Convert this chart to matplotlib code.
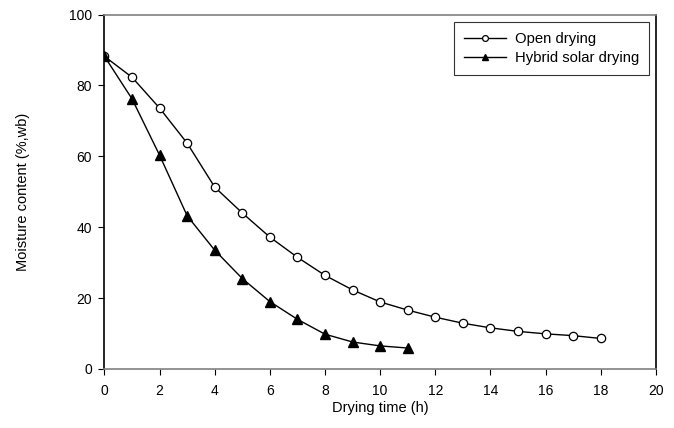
import matplotlib.pyplot as plt

plt.rcParams["font.family"] = ["Liberation Sans", "DejaVu Sans"]

tempo_aberto = list(range(0, 19))
umidade_aberto = [88.2, 82.3, 73.6, 63.7, 51.3, 44.0, 37.2, 31.5, 26.4, 22.3,
                  18.9, 16.6, 14.6, 12.9, 11.6, 10.6, 9.9, 9.4, 8.6]

tempo_hibrido = list(range(0, 12))
umidade_hibrido = [88.2, 76.2, 60.3, 43.2, 33.5, 25.5, 19.0, 14.0, 9.8, 7.6, 6.5, 5.9]

fig = plt.figure(figsize=(6.74, 4.28), dpi=100)
ax = fig.add_axes([0.155, 0.138, 0.818, 0.828])

ax.plot(tempo_aberto, umidade_aberto, color="black", lw=1, marker="o",
        markersize=6, markerfacecolor="white", markeredgecolor="black",
        markeredgewidth=0.9, label="Open drying")
ax.plot(tempo_hibrido, umidade_hibrido, color="black", lw=1, marker="^",
        markersize=7, markerfacecolor="black", markeredgecolor="black",
        label="Hybrid solar drying")

ax.set_xlim(0, 20)
ax.set_ylim(0, 100)
ax.set_xticks(range(0, 21, 2))
ax.set_yticks(range(0, 101, 20))
ax.tick_params(direction="out", length=4, width=0.8, labelsize=10, colors="black")
ax.tick_params(axis="x", pad=7)
ax.tick_params(axis="y", pad=5)

ax.spines["left"].set_color("black")
ax.spines["right"].set_color("black")
ax.spines["top"].set_color("#808080")
ax.spines["bottom"].set_color("#808080")
for s in ax.spines.values():
    s.set_linewidth(1.2)

ax.set_xlabel("Drying time (h)", fontsize=10.5, labelpad=2)
ax.set_ylabel("Moisture content (%,wb)", fontsize=10.5, labelpad=28)

leg = ax.legend(loc="upper right", bbox_to_anchor=(0.988, 0.979),
                borderaxespad=0, fontsize=10.7,
                frameon=True, fancybox=False, edgecolor="black",
                markerscale=0.7, handlelength=2.8, handletextpad=0.6,
                borderpad=0.7, labelspacing=0.3)
leg.get_frame().set_linewidth(0.8)

fig.savefig("out.png", dpi=100)
